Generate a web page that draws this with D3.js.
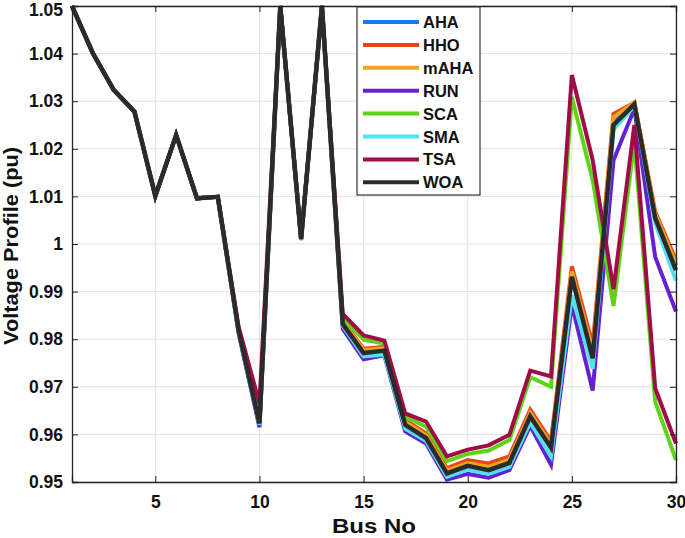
<!DOCTYPE html>
<html>
<head>
<meta charset="utf-8">
<script src="https://cdn.jsdelivr.net/npm/d3@7"></script>
<style>
  html, body { margin: 0; padding: 0; background: #fff; }
  #chart { width: 685px; height: 538px; }
  text { font-family: "Liberation Sans", Arial, sans-serif; font-weight: bold; fill: #111; }
</style>
</head>
<body>
<div id="chart"></div>
<script>
// bus numbers 1..30
const buses = [1, 2, 3, 4, 5, 6, 7, 8, 9, 10, 11, 12, 13, 14, 15, 16, 17, 18, 19, 20, 21, 22, 23, 24, 25, 26, 27, 28, 29, 30];

const seriesNames = ["AHA", "HHO", "mAHA", "RUN", "SCA", "SMA", "TSA", "WOA"];
const seriesColors = ["#1f78f0", "#e8441c", "#f0a51e", "#6420d2", "#5ed318", "#50e2f2", "#a00c46", "#2b2b2b"];

const xTicks = [5, 10, 15, 20, 25, 30];
const yTicks = [0.95, 0.96, 0.97, 0.98, 0.99, 1, 1.01, 1.02, 1.03, 1.04, 1.05];

const ahaValues  = [1.05, 1.0401, 1.0324, 1.0278, 1.0101, 1.0229, 1.0096, 1.0099, 0.9816, 0.9620, 1.05, 1.0010, 1.05, 0.9834, 0.9774, 0.9778, 0.9623, 0.9595, 0.9521, 0.9537, 0.9528, 0.9543, 0.9641, 0.9575, 0.9935, 0.9765, 1.0262, 1.0296, 1.0062, 0.9955];
const hhoValues  = [1.05, 1.0401, 1.0324, 1.0278, 1.0101, 1.0229, 1.0096, 1.0099, 0.9819, 0.9625, 1.05, 1.0011, 1.05, 0.9838, 0.9780, 0.9784, 0.9630, 0.9602, 0.9529, 0.9546, 0.9539, 0.9554, 0.9652, 0.9586, 0.9953, 0.9788, 1.0273, 1.0297, 1.0068, 0.9966];
const mahaValues = [1.05, 1.0401, 1.0324, 1.0278, 1.0101, 1.0229, 1.0096, 1.0099, 0.9818, 0.9623, 1.05, 1.0011, 1.05, 0.9836, 0.9777, 0.9781, 0.9626, 0.9598, 0.9524, 0.9540, 0.9532, 0.9547, 0.9645, 0.9579, 0.9942, 0.9774, 1.0266, 1.0298, 1.0064, 0.9958];
const runValues  = [1.05, 1.0401, 1.0324, 1.0278, 1.0101, 1.0229, 1.0096, 1.0099, 0.9812, 0.9615, 1.05, 1.0008, 1.05, 0.9822, 0.9758, 0.9766, 0.9606, 0.9581, 0.9505, 0.9517, 0.9509, 0.9525, 0.9618, 0.9536, 0.9873, 0.9692, 1.0176, 1.0284, 0.9973, 0.9858];
const scaValues  = [1.05, 1.0401, 1.0324, 1.0278, 1.0101, 1.0229, 1.0096, 1.0099, 0.9820, 0.9635, 1.05, 1.0012, 1.05, 0.9845, 0.9799, 0.9791, 0.9637, 0.9616, 0.9544, 0.9559, 0.9566, 0.9588, 0.9720, 0.9700, 1.0309, 1.0134, 0.9870, 1.0215, 0.9669, 0.9546];
const smaValues  = [1.05, 1.0401, 1.0324, 1.0278, 1.0101, 1.0229, 1.0096, 1.0099, 0.9815, 0.9620, 1.05, 1.0010, 1.05, 0.9828, 0.9764, 0.9768, 0.9612, 0.9586, 0.9511, 0.9526, 0.9517, 0.9532, 0.9625, 0.9554, 0.9892, 0.9738, 1.0240, 1.0290, 1.0044, 0.9923];
const tsaValues  = [1.05, 1.0401, 1.0324, 1.0278, 1.0101, 1.0229, 1.0096, 1.0099, 0.9826, 0.9665, 1.05, 1.0013, 1.05, 0.9853, 0.9808, 0.9797, 0.9644, 0.9627, 0.9554, 0.9568, 0.9577, 0.9599, 0.9734, 0.9722, 1.0355, 1.0176, 0.9905, 1.0250, 0.9697, 0.9581];
const woaValues  = [1.05, 1.0401, 1.0324, 1.0278, 1.0101, 1.0229, 1.0096, 1.0099, 0.9818, 0.9623, 1.05, 1.0011, 1.05, 0.9832, 0.9771, 0.9776, 0.9620, 0.9592, 0.9518, 0.9534, 0.9525, 0.9540, 0.9638, 0.9572, 0.9931, 0.9760, 1.0250, 1.0294, 1.0055, 0.9945];

const allValues = [ahaValues, hhoValues, mahaValues, runValues, scaValues, smaValues, tsaValues, woaValues];

class VoltageChart {
  constructor(selector) {
    this.margin = { top: 6, right: 9, bottom: 56, left: 72 };
    this.width = 685;
    this.height = 538;

    this.dom = document.querySelector(selector) || document.querySelector('body');
    this.svg = d3.select(this.dom).append("svg")
      .attr("width", this.width)
      .attr("height", this.height);

    this.innerW = this.width - this.margin.left - this.margin.right;
    this.innerH = this.height - this.margin.top - this.margin.bottom;

    this.x = d3.scaleLinear().domain([1, 30]).range([0, this.innerW]);
    this.y = d3.scaleLinear().domain([0.95, 1.05]).range([this.innerH, 0]);

    this.g = this.svg.append("g")
      .attr("transform", `translate(${this.margin.left},${this.margin.top})`);
  }

  drawGrid() {
    const grid = this.g.append("g").attr("class", "grid");
    grid.selectAll("line.gx").data(xTicks).enter().append("line")
      .attr("x1", d => this.x(d)).attr("x2", d => this.x(d))
      .attr("y1", 0).attr("y2", this.innerH)
      .attr("stroke", "#e3e3e3").attr("stroke-width", 1);
    grid.selectAll("line.gy").data(yTicks).enter().append("line")
      .attr("y1", d => this.y(d)).attr("y2", d => this.y(d))
      .attr("x1", 0).attr("x2", this.innerW)
      .attr("stroke", "#e3e3e3").attr("stroke-width", 1);
  }

  drawAxes() {
    const fmt = d => d3.format("~g")(d);

    const bottom = this.g.append("g")
      .attr("transform", `translate(0,${this.innerH})`)
      .call(d3.axisBottom(this.x).tickValues(xTicks).tickSize(-6).tickPadding(14).tickFormat(fmt));
    const left = this.g.append("g")
      .call(d3.axisLeft(this.y).tickValues(yTicks).tickSize(-6).tickPadding(9).tickFormat(fmt));
    const top = this.g.append("g")
      .call(d3.axisTop(this.x).tickValues(xTicks).tickSize(-6).tickFormat(""));
    const right = this.g.append("g")
      .attr("transform", `translate(${this.innerW},0)`)
      .call(d3.axisRight(this.y).tickValues(yTicks).tickSize(-6).tickFormat(""));

    [bottom, left, top, right].forEach(a => {
      a.select(".domain").attr("stroke", "#222").attr("stroke-width", 1.3);
      a.selectAll(".tick line").attr("stroke", "#222").attr("stroke-width", 1);
      a.selectAll(".tick text")
        .attr("font-size", 17.5).attr("font-weight", "bold")
        .attr("font-family", "'Liberation Sans', Arial, sans-serif")
        .attr("fill", "#111");
    });
    // keep the top label inside the page
    left.selectAll(".tick text").filter(d => d === 1.05).attr("dy", "0.55em");

    this.svg.append("text")
      .attr("x", this.margin.left + this.innerW / 2)
      .attr("y", 533)
      .attr("text-anchor", "middle")
      .attr("font-size", 21)
      .attr("textLength", 84)
      .attr("lengthAdjust", "spacingAndGlyphs")
      .text("Bus No");

    this.svg.append("text")
      .attr("transform", `translate(18,${this.margin.top + this.innerH / 2 + 2}) rotate(-90)`)
      .attr("text-anchor", "middle")
      .attr("font-size", 20)
      .attr("textLength", 198)
      .attr("lengthAdjust", "spacingAndGlyphs")
      .text("Voltage Profile (pu)");
  }

  drawLines() {
    const line = d3.line()
      .x((d, i) => this.x(buses[i]))
      .y(d => this.y(d));

    allValues.forEach((vals, i) => {
      this.g.append("path")
        .datum(vals)
        .attr("fill", "none")
        .attr("stroke", seriesColors[i])
        .attr("stroke-width", i === 7 ? 4.5 : 4)
        .attr("stroke-linejoin", "miter")
        .attr("d", line);
    });
  }

  drawLegend() {
    const lg = this.svg.append("g").attr("transform", "translate(357,7)");
    lg.append("rect")
      .attr("width", 123).attr("height", 188)
      .attr("fill", "#fff").attr("stroke", "#333").attr("stroke-width", 1.2);

    seriesNames.forEach((name, i) => {
      const cy = 15 + i * 22.9;
      lg.append("line")
        .attr("x1", 6).attr("x2", 62)
        .attr("y1", cy).attr("y2", cy)
        .attr("stroke", seriesColors[i]).attr("stroke-width", 4);
      lg.append("text")
        .attr("x", 66).attr("y", cy + 6)
        .attr("font-size", 16.5)
        .text(name);
    });
  }
}

const chart = new VoltageChart("#chart");
chart.drawGrid();
chart.drawLines();
chart.drawAxes();
chart.drawLegend();
</script>
</body>
</html>
